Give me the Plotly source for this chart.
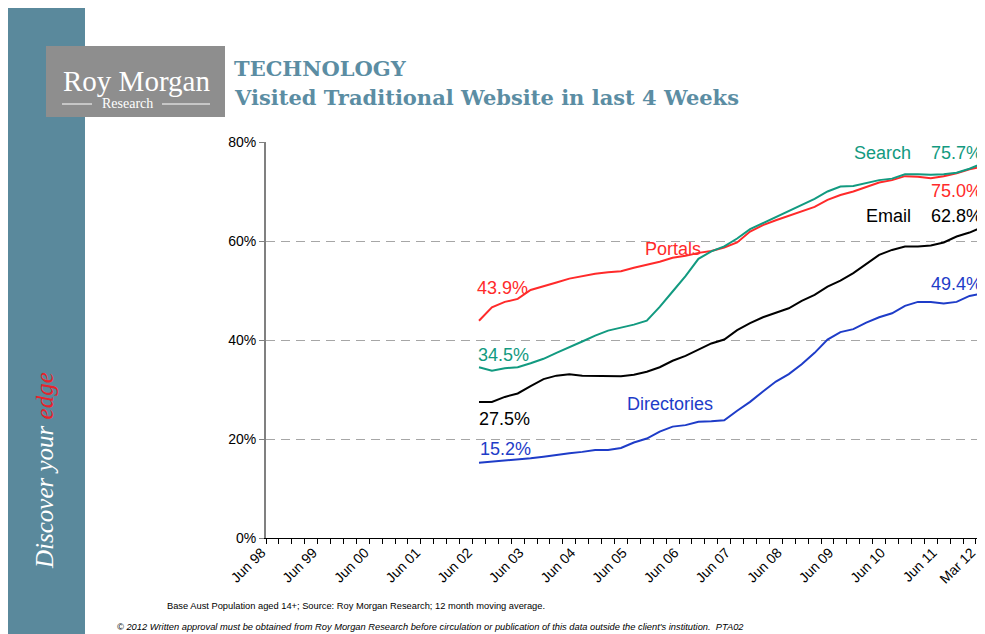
import pandas as pd
import plotly.graph_objects as go

# quarterly categories Jun 98 .. Mar 12
quarters = pd.date_range("1998-06-01", "2012-03-01", freq="3MS").strftime("%b %y").tolist()
tick_labels = ["Jun 98", "Jun 99", "Jun 00", "Jun 01", "Jun 02", "Jun 03", "Jun 04",
               "Jun 05", "Jun 06", "Jun 07", "Jun 08", "Jun 09", "Jun 10", "Jun 11", "Mar 12"]

# series (Jun 02 .. Mar 12), 12 month moving average, %
portals = [43.9, 46.6, 47.7, 48.3, 50.1, 50.8, 51.6, 52.4, 52.9, 53.4,
           53.7, 53.9, 54.6, 55.2, 55.8, 56.6, 57.0, 57.6, 58.0, 58.7,
           59.7, 61.9, 63.2, 64.2, 65.1, 65.9, 66.9, 68.3, 69.3, 70.0,
           70.9, 71.8, 72.3, 73.1, 73.0, 72.7, 73.1, 73.7, 74.5, 75.0]
search = [34.5, 33.8, 34.3, 34.5, 35.3, 36.2, 37.4, 38.5, 39.7, 40.9,
          41.9, 42.5, 43.1, 43.9, 46.7, 49.8, 52.9, 56.4, 57.9, 58.9,
          60.5, 62.4, 63.6, 64.9, 66.1, 67.2, 68.5, 70.0, 71.0, 71.1,
          71.7, 72.3, 72.6, 73.5, 73.5, 73.4, 73.5, 73.8, 74.6, 75.7]
email = [27.5, 27.5, 28.5, 29.2, 30.7, 32.1, 32.8, 33.1, 32.8, 32.8,
         32.7, 32.7, 33.0, 33.6, 34.5, 35.8, 36.8, 38.1, 39.3, 40.1,
         42.0, 43.4, 44.6, 45.5, 46.4, 47.9, 49.1, 50.8, 52.0, 53.5,
         55.4, 57.2, 58.2, 58.9, 58.9, 59.1, 59.7, 60.9, 61.7, 62.8]
directories = [15.2, 15.4, 15.6, 15.9, 16.1, 16.4, 16.8, 17.1, 17.4, 17.8,
               17.8, 18.2, 19.3, 20.1, 21.5, 22.5, 22.8, 23.5, 23.6, 23.8,
               25.7, 27.5, 29.6, 31.6, 33.1, 35.1, 37.4, 40.1, 41.6, 42.2,
               43.5, 44.6, 45.4, 46.9, 47.7, 47.7, 47.4, 47.7, 48.9, 49.4]

x_data = quarters[quarters.index("Jun 02"):]

# page has an 8px body margin; plot area in figure pixels
OFF = 8
FW, FH = 985 - OFF, 634 - OFF
L, T, W, H = 266 - OFF, 142 - OFF, 719, 396


# helpers: page pixel -> paper coords
def px(x):
    return (x - OFF - L) / W


def py(y):
    return (T + H - (y - OFF)) / H


fig = go.Figure()
for name, vals, col in [("Portals", portals, "#FF2A2A"),
                        ("Search", search, "#129A80"),
                        ("Email", email, "#000000"),
                        ("Directories", directories, "#1E3CC8")]:
    fig.add_trace(go.Scatter(x=x_data, y=vals, name=name, mode="lines",
                             line=dict(color=col, width=2)))

lab_font = dict(family="Liberation Sans, Arial", size=18)
labels = [
    ("Search", 913, 153, "right", "#129A80"),
    (f"{search[-1]}%", 984, 153, "right", "#129A80"),
    (f"{portals[-1]:.1f}%", 984, 191, "right", "#FF2A2A"),
    ("Email", 913, 216, "right", "#000000"),
    (f"{email[-1]}%", 984, 216, "right", "#000000"),
    (f"{directories[-1]}%", 984, 284, "right", "#1E3CC8"),
    ("Portals", 643, 249, "left", "#FF2A2A"),
    (f"{portals[0]}%", 475, 288, "left", "#FF2A2A"),
    (f"{search[0]}%", 476, 355, "left", "#129A80"),
    (f"{email[0]}%", 477, 419, "left", "#000000"),
    ("Directories", 625, 404, "left", "#1E3CC8"),
    (f"{directories[0]}%", 478, 449, "left", "#1E3CC8"),
]
annotations = []
for txt, x, y, anc, col in labels:
    annotations.append(dict(text=txt, x=px(x), y=py(y), xref="paper", yref="paper",
                            xanchor=anc, yanchor="middle", showarrow=False,
                            font=dict(lab_font, color=col)))

title_font = dict(family="DejaVu Serif", size=21, color="#5B8DA3")
annotations += [
    dict(text="<b>TECHNOLOGY</b>", x=px(232), y=py(68), xref="paper", yref="paper",
         xanchor="left", yanchor="middle", showarrow=False, font=title_font),
    dict(text="<b>Visited Traditional Website in last 4 Weeks</b>", x=px(232), y=py(97),
         xref="paper", yref="paper", xanchor="left", yanchor="middle", showarrow=False,
         font=title_font),
    dict(text="Roy Morgan", x=px(136), y=py(81), xref="paper", yref="paper",
         xanchor="center", yanchor="middle", showarrow=False,
         font=dict(family="Liberation Serif", size=29, color="white")),
    dict(text="Research", x=px(127), y=py(103), xref="paper", yref="paper",
         xanchor="center", yanchor="middle", showarrow=False,
         font=dict(family="Liberation Serif", size=14, color="white")),
    dict(text="<i>Discover your <span style='color:#E8232B'>edge</span></i>",
         x=px(44), y=py(471), xref="paper", yref="paper", textangle=-90,
         xanchor="center", yanchor="middle", showarrow=False,
         font=dict(family="Liberation Serif", size=25, color="white")),
    dict(text="Base Aust Population aged 14+; Source: Roy Morgan Research; 12 month moving average.",
         x=px(165), y=py(606), xref="paper", yref="paper", xanchor="left",
         yanchor="middle", showarrow=False,
         font=dict(family="Liberation Sans, Arial", size=9.3, color="#000000")),
    dict(text="<i>© 2012 Written approval must be obtained from Roy Morgan Research before "
              "circulation or publication of this data outside the client's institution.  PTA02</i>",
         x=px(115), y=py(627), xref="paper", yref="paper", xanchor="left",
         yanchor="middle", showarrow=False,
         font=dict(family="Liberation Sans, Arial", size=9.3, color="#000000")),
]

shapes = [
    dict(type="rect", xref="paper", yref="paper", x0=px(7), x1=px(85), y0=py(640), y1=py(7),
         fillcolor="#5A899C", line_width=0, layer="below"),
    dict(type="rect", xref="paper", yref="paper", x0=px(46), x1=px(225), y0=py(117), y1=py(46),
         fillcolor="#8E8E8E", line_width=0, layer="below"),
    dict(type="line", xref="paper", yref="paper", x0=px(62), x1=px(92), y0=py(104), y1=py(104),
         line=dict(color="white", width=1)),
    dict(type="line", xref="paper", yref="paper", x0=px(162), x1=px(210), y0=py(104), y1=py(104),
         line=dict(color="white", width=1)),
]

fig.update_layout(
    width=FW, height=FH,
    margin=dict(l=L, r=FW - L - W, t=T, b=FH - T - H),
    paper_bgcolor="white", plot_bgcolor="white",
    showlegend=False,
    font=dict(family="Liberation Sans, Arial", size=14, color="#000000"),
    annotations=annotations,
    shapes=shapes,
)
fig.update_xaxes(
    type="category", categoryorder="array", categoryarray=quarters,
    range=[-0.5, 55.2],
    tickmode="array", tickvals=quarters,
    ticktext=[q if q in tick_labels else "" for q in quarters],
    tickson="boundaries", ticks="outside", ticklen=5, tickcolor="#000000",
    tickangle=-45, tickfont=dict(size=14), ticklabelshift=-11,
    showline=True, linecolor="#000000", linewidth=1, showgrid=False,
)
fig.update_yaxes(
    range=[0, 80], tick0=0, dtick=20, ticksuffix="%",
    showgrid=True, gridcolor="#A6A6A6", griddash="9px,6px", gridwidth=1,
    showline=True, linecolor="#808080", linewidth=2, zeroline=False,
    ticks="outside", ticklen=5, tickcolor="#808080", tickfont=dict(size=14),
)

fig.write_html("out.html")
